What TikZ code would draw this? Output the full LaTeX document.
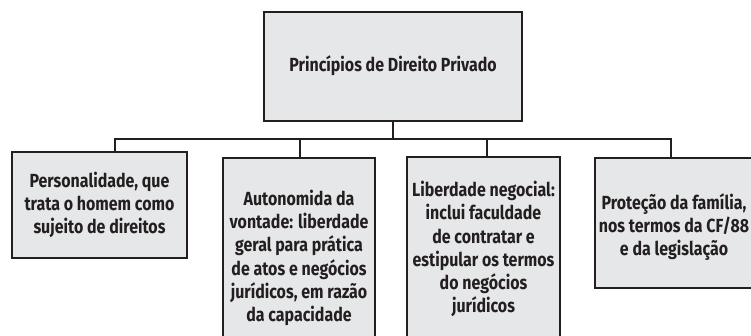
\documentclass[tikz,border=0pt]{standalone}
\usepackage{fontspec}
\setmainfont[FakeStretch=0.84]{Fira Sans}
\definecolor{boxfill}{HTML}{E6E7E8}
\definecolor{ink}{HTML}{231F20}
\begin{document}
\begin{tikzpicture}[x=1pt,y=-1pt,
  box/.style={draw=ink, fill=boxfill, line width=2pt, inner sep=0pt},
  txt/.style={font=\fontsize{19}{23.2}\selectfont\bfseries, text=ink, align=center, inner sep=0pt},
  link/.style={draw=ink, line width=1.8pt, line join=miter}]
\useasboundingbox (0,0) rectangle (751,336);
\clip (0,0) rectangle (751,336);
\fill[white] (0,0) rectangle (751,336);
% boxes
\node[box, minimum width=258pt, minimum height=109pt] (top) at (393,66.5) {};
\node[box, minimum width=175pt, minimum height=106pt] (b1) at (99.5,205) {};
\node[box, minimum width=152pt, minimum height=202pt] (b2) at (299,259) {};
\node[box, minimum width=153pt, minimum height=203pt] (b3) at (483.5,258.5) {};
\node[box, minimum width=175pt, minimum height=130pt] (b4) at (682.5,223) {};
% texts
\node[txt] (t0) at (393,66) {Princípios de Direito Privado};
\node[txt] (t1) at (99.5,205) {Personalidade, que\\trata o homem como\\sujeito de direitos};
\node[txt] (t2) at (299,258) {Autonomida da\\vontade: liberdade\\geral para prática\\de atos e negócios\\jurídicos, em razão\\da capacidade};
\node[txt] (t3) at (483.5,249) {Liberdade negocial:\\inclui faculdade\\de contratar e\\estipular os termos\\do negócios\\jurídicos};
\node[txt] (t4) at (674,227) {Proteção da família,\\nos termos da CF/88\\e da legislação};
% connectors
\coordinate (j1) at (115,139);
\coordinate (j2) at (300,139);
\coordinate (j3) at (487,139);
\coordinate (j4) at (671,139);
\draw[link] (top.south) -- (top.south |- j1);
\draw[link] (j1 |- b1.north) -- (j1) -- (j4) -- (j4 |- b4.north);
\draw[link] (j2) -- (j2 |- b2.north);
\draw[link] (j3) -- (j3 |- b3.north);
\end{tikzpicture}
\end{document}
